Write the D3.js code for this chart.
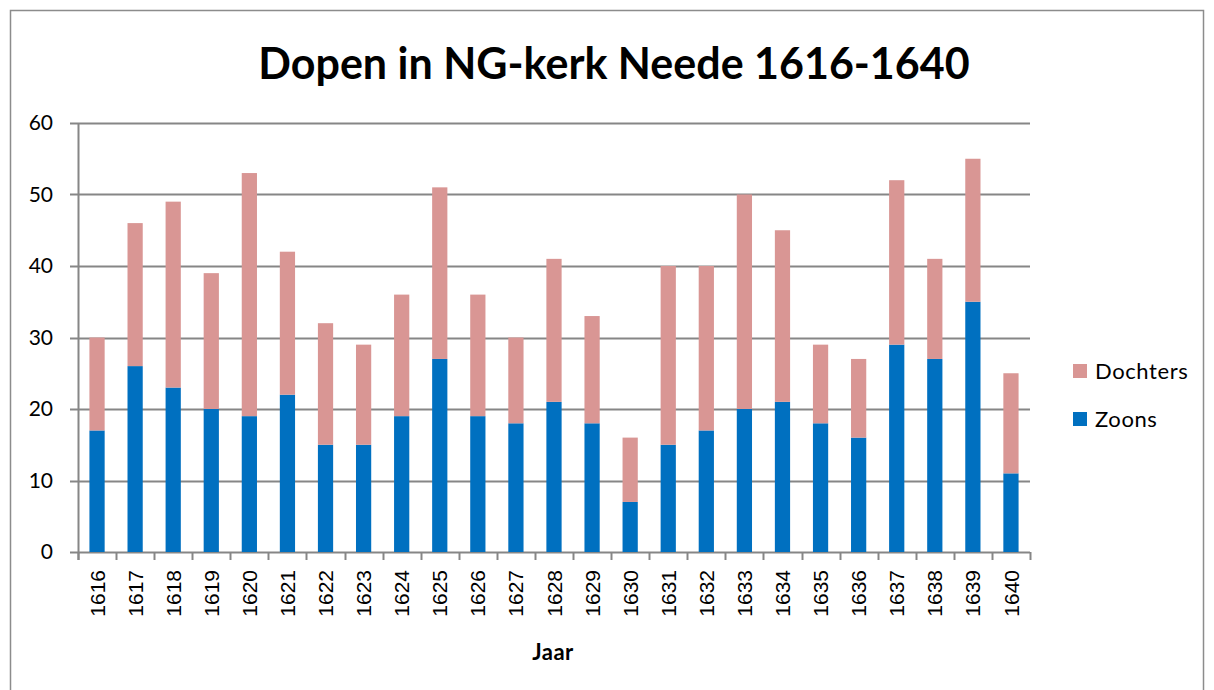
<!DOCTYPE html>
<html>
<head>
<meta charset="utf-8">
<script src="https://cdn.jsdelivr.net/npm/d3@7"></script>
<style>
  body { margin: 0; background: #fff; }
  svg { display: block; font-family: Lato, "Open Sans", sans-serif; }
</style>
</head>
<body>
<div id="chart"></div>
<script>
// Data
const years = ['1616','1617','1618','1619','1620','1621','1622','1623','1624','1625','1626','1627','1628',
  '1629','1630','1631','1632','1633','1634','1635','1636','1637','1638','1639','1640'];
const zoons = [17,26,23,20,19,22,15,15,19,27,19,18,21,18,7,15,17,20,21,18,16,29,27,35,11];
const dochters = [13,20,26,19,34,20,17,14,17,24,17,12,20,15,9,25,23,30,24,11,11,23,14,20,14];
const seriesNames = ['Zoons', 'Dochters'];
const seriesColors = ['#0070C0', '#D99694'];
const yTicks = [0, 10, 20, 30, 40, 50, 60];

const W = 1214, H = 690;
const margin = { top: 123, right: 184, bottom: 138, left: 78 };
const width = W - margin.left - margin.right;
const height = H - margin.top - margin.bottom;

const svg = d3.select('#chart').append('svg')
  .attr('width', W)
  .attr('height', H);

// Outer chart border
svg.append('rect')
  .attr('x', 10.5).attr('y', 10.5)
  .attr('width', 1193).attr('height', 700)
  .attr('fill', 'none')
  .attr('stroke', '#8c8c8c')
  .attr('stroke-width', 1.5);

// Title
svg.append('text')
  .attr('x', 614).attr('y', 79)
  .attr('text-anchor', 'middle')
  .style('font-size', '43px')
  .style('font-weight', 'bold')
  .style('fill', '#000')
  .text('Dopen in NG-kerk Neede 1616-1640');

const g = svg.append('g')
  .attr('transform', `translate(${margin.left},${margin.top})`);

const rows = years.map((y, i) => ({ year: y, Zoons: zoons[i], Dochters: dochters[i] }));
const stacked = d3.stack().keys(seriesNames)(rows);

const x = d3.scaleBand()
  .domain(years)
  .range([0, width])
  .paddingInner(0.6)
  .paddingOuter(0.3);

const y = d3.scaleLinear()
  .domain([0, 60])
  .range([height, 0]);

// Gridlines
g.append('g')
  .selectAll('line')
  .data(yTicks)
  .enter()
  .append('line')
  .attr('x1', -8)
  .attr('x2', width)
  .attr('y1', d => Math.round(y(d)) + 0.5)
  .attr('y2', d => Math.round(y(d)) + 0.5)
  .attr('stroke', '#868686')
  .attr('stroke-width', 2);

// Y labels
g.append('g')
  .selectAll('text')
  .data(yTicks)
  .enter()
  .append('text')
  .attr('x', -25)
  .attr('y', d => y(d))
  .attr('dy', '0.35em')
  .attr('text-anchor', 'end')
  .style('font-size', '21px')
  .style('fill', '#000')
  .text(d => d);

// Bars
g.selectAll('.series')
  .data(stacked)
  .enter()
  .append('g')
  .attr('fill', (d, i) => seriesColors[i])
  .selectAll('rect')
  .data(d => d)
  .enter()
  .append('rect')
  .attr('x', d => x(d.data.year))
  .attr('y', d => y(d[1]))
  .attr('width', x.bandwidth())
  .attr('height', d => y(d[0]) - y(d[1]));

// Y axis line
g.append('line')
  .attr('x1', 0.5).attr('x2', 0.5)
  .attr('y1', 0).attr('y2', height + 8)
  .attr('stroke', '#868686')
  .attr('stroke-width', 2);

// X axis ticks between categories
const step = width / years.length;
g.append('g')
  .selectAll('line')
  .data(d3.range(years.length + 1))
  .enter()
  .append('line')
  .attr('x1', d => Math.round(d * step) + 0.5)
  .attr('x2', d => Math.round(d * step) + 0.5)
  .attr('y1', height)
  .attr('y2', height + 8)
  .attr('stroke', '#868686')
  .attr('stroke-width', 2);

// X labels, rotated
g.append('g')
  .selectAll('text')
  .data(years)
  .enter()
  .append('text')
  .attr('transform', d => `translate(${x(d) + x.bandwidth() / 2},${height + 18}) rotate(-90)`)
  .attr('dy', '0.36em')
  .attr('text-anchor', 'end')
  .style('font-family', '"Liberation Sans", Arial, sans-serif')
  .style('font-size', '21px')
  .style('fill', '#000')
  .text(d => d);

// X axis title
svg.append('text')
  .attr('x', margin.left + width / 2 - 1)
  .attr('y', 660)
  .attr('text-anchor', 'middle')
  .style('font-size', '22px')
  .style('font-weight', 'bold')
  .style('letter-spacing', '0.5px')
  .text('Jaar');

// Legend
const legendItems = [
  { name: 'Dochters', color: seriesColors[1] },
  { name: 'Zoons', color: seriesColors[0] }
];
const legend = svg.append('g')
  .selectAll('g')
  .data(legendItems)
  .enter()
  .append('g')
  .attr('transform', (d, i) => `translate(1073,${371 + i * 48})`);

legend.append('rect')
  .attr('x', 0).attr('y', -7)
  .attr('width', 14).attr('height', 14)
  .attr('fill', d => d.color);

legend.append('text')
  .attr('x', 22)
  .attr('dy', '0.35em')
  .style('font-size', '22px')
  .style('letter-spacing', '0.6px')
  .text(d => d.name);
</script>
</body>
</html>
